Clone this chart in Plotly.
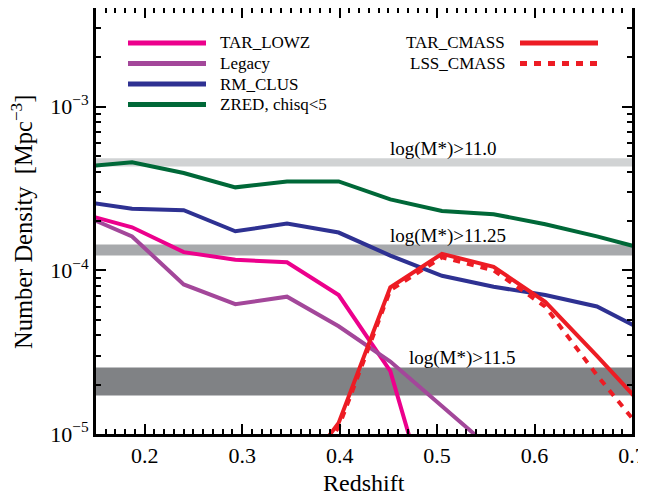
import math
import plotly.graph_objects as go

# ---- data ----
redshift = [0.134, 0.187, 0.240, 0.293, 0.346, 0.399, 0.452, 0.505, 0.558, 0.611, 0.664, 0.717]

tar_lowz = [2.23e-4, 1.83e-4, 1.29e-4, 1.16e-4, 1.12e-4, 7.06e-5, 2.42e-5, 2.0e-6, None, None, None, None]
legacy = [2.20e-4, 1.61e-4, 8.19e-5, 6.21e-5, 6.90e-5, 4.55e-5, 2.77e-5, 1.49e-5, 7.9e-6, None, None, None]
rm_clus = [2.64e-4, 2.38e-4, 2.33e-4, 1.73e-4, 1.93e-4, 1.70e-4, 1.23e-4, 9.25e-5, 7.93e-5, 7.06e-5, 6.01e-5, 4.13e-5]
zred = [4.28e-4, 4.57e-4, 3.93e-4, 3.21e-4, 3.49e-4, 3.49e-4, 2.71e-4, 2.30e-4, 2.20e-4, 1.91e-4, 1.61e-4, 1.33e-4]
tar_cmass = [None, None, None, None, 4.4e-6, 1.17e-5, 7.88e-5, 1.26e-4, 1.05e-4, 6.41e-5, 3.0e-5, 1.37e-5]
lss_cmass = [None, None, None, None, 4.0e-6, 1.10e-5, 7.57e-5, 1.20e-4, 1.00e-4, 6.00e-5, 2.29e-5, 9.4e-6]

band_labels = ["log(M*)>11.0", "log(M*)>11.25", "log(M*)>11.5"]
band_lo = [4.31e-4, 1.233e-4, 1.72e-5]
band_hi = [4.83e-4, 1.435e-4, 2.55e-5]
band_label_x = [0.507, 0.511, 0.526]

x_range = [0.15, 0.70]
x_ticks = [0.2, 0.3, 0.4, 0.5, 0.6, 0.7]
y_ticks = [1e-5, 1e-4, 1e-3]
y_ticktext = ["10<sup>\u22125</sup>", "10<sup>\u22124</sup>", "10<sup>\u22123</sup>"]
x_title = "Redshift"
y_title = "Number Density  [Mpc<sup>\u22123</sup>]"

# ---- styles ----
band_colors = ["#d1d3d4", "#a7a9ac", "#808285"]
series = [
    ("TAR_LOWZ", tar_lowz, "#ec008c", "solid"),
    ("Legacy", legacy, "#a3479a", "solid"),
    ("RM_CLUS", rm_clus, "#2e3192", "solid"),
    ("ZRED, chisq&lt;5", zred, "#006838", "solid"),
    ("TAR_CMASS", tar_cmass, "#ed1c24", "solid"),
    ("LSS_CMASS", lss_cmass, "#ed1c24", "7px,7px"),
]

FONT = "Liberation Serif"

fig = go.Figure()

for lab, lo, hi, col in zip(band_labels, band_lo, band_hi, band_colors):
    fig.add_trace(go.Scatter(
        x=[x_range[0], x_range[1], x_range[1], x_range[0]],
        y=[lo, lo, hi, hi], fill="toself", fillcolor=col,
        line=dict(width=0), mode="lines", hoverinfo="skip", name=lab,
        showlegend=False))

for name, vals, col, dash in series:
    fig.add_trace(go.Scatter(
        x=redshift, y=vals, mode="lines", name=name, showlegend=False,
        line=dict(color=col, width=4, dash=dash)))

# band labels
for lab, hi, xl in zip(band_labels, band_hi, band_label_x):
    fig.add_annotation(x=xl, y=math.log10(hi), text=lab, showarrow=False,
                       xanchor="center", yanchor="bottom", yshift=-4,
                       font=dict(family=FONT, size=19, color="black"))

# page coordinates of the plot area (the page body has an 8px margin)
L, R, T, B = 96, 632, 8, 434
def px(xp):
    return (xp - L) / (R - L)
def py(yp):
    return (B - yp) / (B - T)

left_rows = [43, 63.5, 84, 104.5]
for (name, vals, col, dash), yr in zip(series[:4], left_rows):
    fig.add_shape(type="line", xref="paper", yref="paper",
                  x0=px(128), x1=px(206), y0=py(yr), y1=py(yr),
                  line=dict(color=col, width=5))
    fig.add_annotation(xref="paper", yref="paper", x=px(218), y=py(yr),
                       text=name, showarrow=False, xanchor="left", yanchor="middle",
                       font=dict(family=FONT, size=17, color="black"))

right_rows = [43, 63.5]
for (name, vals, col, dash), yr in zip(series[4:], right_rows):
    fig.add_shape(type="line", xref="paper", yref="paper",
                  x0=px(520), x1=px(598), y0=py(yr), y1=py(yr),
                  line=dict(color=col, width=5, dash=dash))
    fig.add_annotation(xref="paper", yref="paper", x=px(507), y=py(yr),
                       text=name, showarrow=False, xanchor="right", yanchor="middle",
                       font=dict(family=FONT, size=17, color="black"))

# axis titles
fig.add_annotation(xref="paper", yref="paper", x=px(364), y=py(483), text=x_title,
                   showarrow=False, xanchor="center", yanchor="middle",
                   font=dict(family=FONT, size=24, color="black"))
fig.add_annotation(xref="paper", yref="paper", x=px(22), y=py(222), text=y_title,
                   showarrow=False, xanchor="center", yanchor="middle", textangle=-90,
                   font=dict(family=FONT, size=24.5, color="black"))

fig.update_layout(
    width=646, height=496,
    margin=dict(l=88, r=22, t=0, b=70, autoexpand=False),
    plot_bgcolor="white", paper_bgcolor="white",
    font=dict(family=FONT, size=22, color="black"),
    showlegend=False,
)
fig.update_xaxes(
    range=x_range, tickvals=x_ticks, ticktext=[f"{v:.1f}" for v in x_ticks],
    ticks="inside", ticklen=10, tickwidth=2, tickcolor="black",
    showline=True, linewidth=3, linecolor="black", mirror="ticks",
    showgrid=False, zeroline=False, automargin=False,
    minor=dict(ticks="inside", dtick=0.01, ticklen=5, tickwidth=1.5, tickcolor="black", showgrid=False),
    tickfont=dict(family=FONT, size=22, color="black"),
)
fig.update_yaxes(
    type="log", range=[-5, -2.398], tickvals=y_ticks, ticktext=y_ticktext,
    ticks="inside", ticklen=10, tickwidth=2, tickcolor="black",
    showline=True, linewidth=3, linecolor="black", mirror="ticks",
    showgrid=False, zeroline=False, automargin=False,
    minor=dict(ticks="inside", dtick="D1", ticklen=5, tickwidth=1.5, tickcolor="black", showgrid=False),
    tickfont=dict(family=FONT, size=22, color="black"),
)

fig.write_html("out.html")
